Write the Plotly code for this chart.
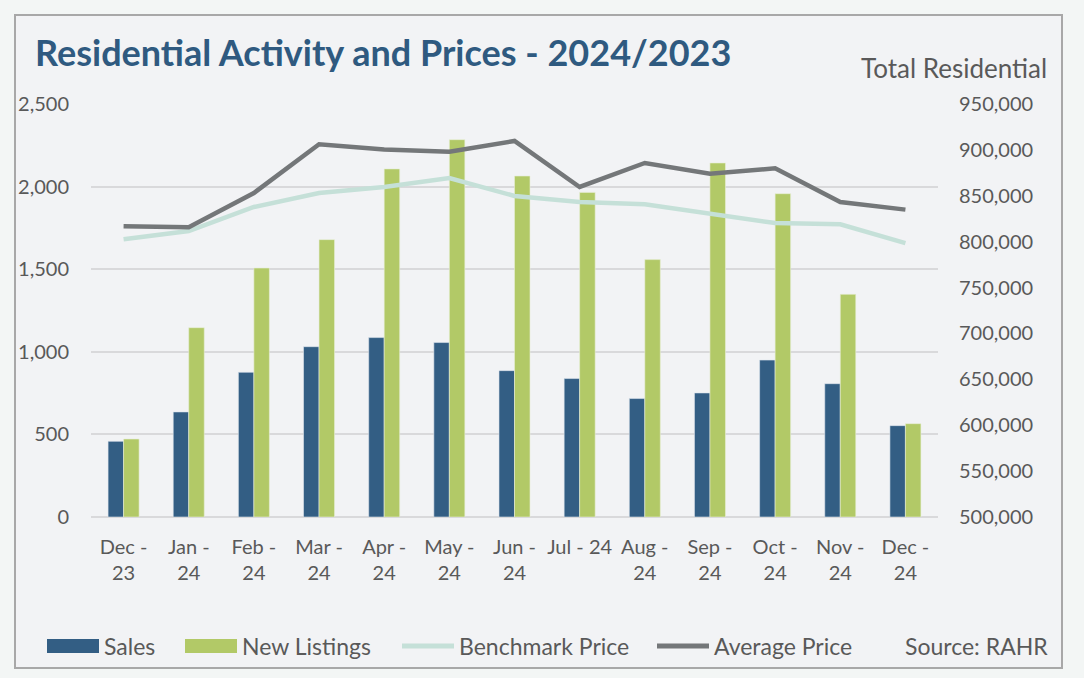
import plotly.graph_objects as go

categories = ["Dec -<br>23", "Jan -<br>24", "Feb -<br>24", "Mar -<br>24", "Apr -<br>24", "May -<br>24",
              "Jun -<br>24", "Jul - 24", "Aug -<br>24", "Sep -<br>24", "Oct -<br>24", "Nov -<br>24", "Dec -<br>24"]
sales = [458, 636, 876, 1031, 1086, 1056, 886, 838, 717, 751, 950, 807, 553]
new_listings = [472, 1146, 1507, 1679, 2107, 2284, 2064, 1965, 1558, 2143, 1957, 1348, 565]
benchmark_price = [802600, 811600, 837800, 853000, 859600, 869400, 849800, 843200, 840700, 830600, 820300, 818900, 798500]
average_price = [816700, 815600, 853000, 906100, 900300, 898100, 909700, 859600, 885700, 874100, 879900, 843200, 834900]

C_SALES = "#335e84"
C_LIST = "#b2c967"
C_BENCH = "#c5e0d8"
C_AVG = "#747779"
TXT = "#595959"
FONT = "Lato"

fig = go.Figure()
fig.add_trace(go.Bar(x=categories, y=sales, name="Sales", marker=dict(color=C_SALES, line=dict(color="#dfe6ee", width=0.6))))
fig.add_trace(go.Bar(x=categories, y=new_listings, name="New Listings", marker=dict(color=C_LIST, line=dict(color="#e8eed6", width=0.6))))
fig.add_trace(go.Scatter(x=categories, y=benchmark_price, name="Benchmark Price", yaxis="y2", mode="lines",
                         line=dict(color=C_BENCH, width=4.5)))
fig.add_trace(go.Scatter(x=categories, y=average_price, name="Average Price", yaxis="y2", mode="lines",
                         line=dict(color=C_AVG, width=4.5)))

W, H = 1084, 678
ml, mr, mt, mb = 91, 146, 104, 161
pw, ph = W - ml - mr, H - mt - mb

def px_x(x):
    return (x - ml) / pw

def px_y(y):
    return (H - mb - y) / ph

shapes = []
# outer chart box
shapes.append(dict(type="rect", xref="paper", yref="paper", x0=px_x(15), x1=px_x(1062), y0=px_y(668), y1=px_y(15),
                   layer="below", line=dict(color="#a8a8a8", width=2), fillcolor="#f2f3f5"))

# custom legend
shapes.append(dict(type="rect", xref="paper", yref="paper", x0=px_x(47), x1=px_x(99), y0=px_y(653), y1=px_y(639),
                   line=dict(width=0), fillcolor=C_SALES))
shapes.append(dict(type="rect", xref="paper", yref="paper", x0=px_x(185), x1=px_x(237), y0=px_y(653), y1=px_y(639),
                   line=dict(width=0), fillcolor=C_LIST))
shapes.append(dict(type="line", xref="paper", yref="paper", x0=px_x(402), x1=px_x(454), y0=px_y(646), y1=px_y(646),
                   line=dict(color=C_BENCH, width=5)))
shapes.append(dict(type="line", xref="paper", yref="paper", x0=px_x(657), x1=px_x(709), y0=px_y(646), y1=px_y(646),
                   line=dict(color=C_AVG, width=5)))

annotations = []
def txt(x, y, s, size=20, anchor="left", color=TXT, bold=False, family=FONT):
    annotations.append(dict(xref="paper", yref="paper", x=px_x(x), y=px_y(y), text=s, showarrow=False,
                            xanchor=anchor, yanchor="middle",
                            font=dict(family=family, size=size, color=color, weight=("bold" if bold else "normal"))))

txt(102, 646, "Sales", size=23)
txt(240, 646, "New Listings", size=23)
txt(457, 646, "Benchmark Price", size=23)
txt(712, 646, "Average Price", size=23)
txt(1050, 646, "Source: RAHR", size=23, anchor="right")
txt(1049, 68, "Total Residential", size=26, anchor="right")
txt(33, 52, "Residential Activity and Prices - 2024/2023", size=36, color="#2f5a80", bold=True)

fig.update_layout(
    width=W, height=H,
    margin=dict(l=ml, r=mr, t=mt, b=mb, pad=0),
    paper_bgcolor="#f3f6f5",
    plot_bgcolor="rgba(0,0,0,0)",
    barmode="group", bargap=0.524, bargroupgap=0,
    showlegend=False,
    font=dict(family=FONT, color=TXT, size=20),
    shapes=shapes,
    annotations=annotations,
    xaxis=dict(showgrid=False, showline=False, zeroline=False, ticks="", tickfont=dict(size=20, color=TXT),
               ticklabelstandoff=16),
    yaxis=dict(range=[0, 2500], dtick=500, tickformat=",", showgrid=True, gridcolor="#d9d9db", gridwidth=1.5,
               zeroline=True, zerolinecolor="#d9d9db", zerolinewidth=1.5, showline=False, ticks="",
               tickfont=dict(size=20, color=TXT), ticklabelstandoff=21),
    yaxis2=dict(range=[500000, 950000], dtick=50000, tickformat=",", overlaying="y", side="right", showgrid=False,
                zeroline=False, showline=False, ticks="", tickfont=dict(size=20, color=TXT), ticklabelstandoff=20),
)

fig.write_html("out.html")
